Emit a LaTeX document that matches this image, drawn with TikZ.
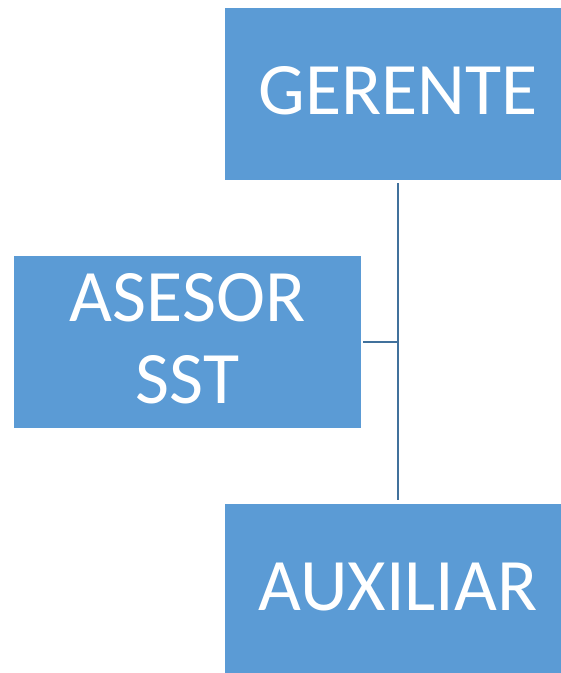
\documentclass[tikz,border=0pt]{standalone}
\usepackage{fontspec}
\setmainfont{Carlito}
\definecolor{boxblue}{HTML}{5B9BD5}
\definecolor{lineblue}{HTML}{41719C}
\begin{document}
\begin{tikzpicture}[x=1pt,y=1pt,
  orgbox/.style={fill=boxblue,draw=none,minimum width=347pt,minimum height=172pt,
    inner sep=0pt,text=white,align=center,text depth=7pt,
    font=\fontsize{74}{82}\selectfont},
  conn/.style={draw=lineblue,line width=2pt}]
\clip (0,0) rectangle (561,-673);
\useasboundingbox (0,0) rectangle (561,-673);
\node[orgbox] (ger) at (398,-94) {GERENTE};
\node[orgbox] (ase) at (187.5,-342) {ASESOR\\SST};
\node[orgbox] (aux) at (398,-590) {AUXILIAR};
\draw[conn,shorten <=3pt,shorten >=4pt] (ger.south) -- (aux.north);
\draw[conn,shorten <=2pt] (ase.east) -- (ase.east -| ger.south);
\end{tikzpicture}
\end{document}
